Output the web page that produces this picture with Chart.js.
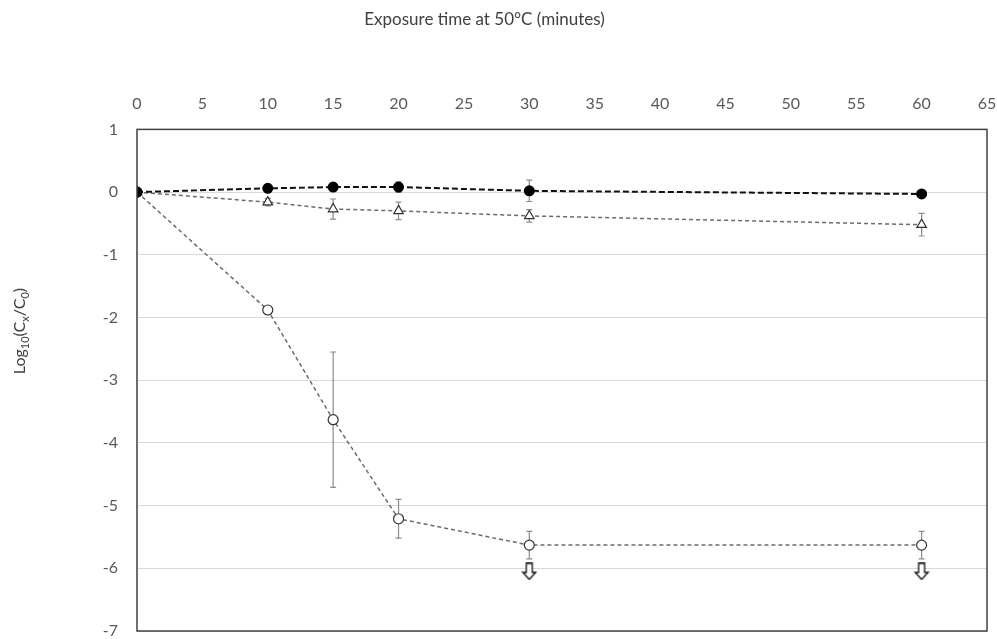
<!DOCTYPE html>
<html>
<head>
<meta charset="utf-8">
<script src="https://cdn.jsdelivr.net/npm/chart.js@4/dist/chart.umd.min.js"></script>
<style>
  html, body { margin: 0; padding: 0; background: #fff; overflow: hidden; }
  canvas { display: block; }
</style>
</head>
<body>
<canvas id="myChart" width="997" height="639" style="width:997px;height:639px"></canvas>
<script>
const ctx = document.getElementById('myChart').getContext('2d');

// exposure times (minutes)
const times = [0, 10, 15, 20, 30, 60];

// log10 reductions, three series
const filledVals = [0, 0.06, 0.08, 0.08, 0.02, -0.03];
const filledErr  = [0, 0, 0, 0.085, 0.17, 0];

const triVals = [0, -0.16, -0.27, -0.30, -0.38, -0.52];
const triErr  = [0, 0.06, 0.16, 0.14, 0.10, 0.18];

const openVals = [0, -1.88, -3.63, -5.21, -5.63, -5.63];
const openErr  = [0, 0, 1.08, 0.31, 0.22, 0.22];

// below-detection-limit arrows
const arrowTimes = [30, 60];
const arrowVals  = [-6.05, -6.05];

const xTicks = [0, 5, 10, 15, 20, 25, 30, 35, 40, 45, 50, 55, 60, 65];
const yTicks = [1, 0, -1, -2, -3, -4, -5, -6, -7];

const toPoints = (xs, ys) => xs.map((x, i) => ({x: x, y: ys[i]}));

// hollow down arrow used as point style
function makeArrow() {
    const c = document.createElement('canvas');
    c.width = 16; c.height = 18;
    const g = c.getContext('2d');
    g.strokeStyle = '#111';
    g.lineWidth = 1.3;
    g.fillStyle = '#fff';
    g.beginPath();
    g.moveTo(5, 1);
    g.lineTo(11, 1);
    g.lineTo(11, 10);
    g.lineTo(14.5, 10);
    g.lineTo(8, 17);
    g.lineTo(1.5, 10);
    g.lineTo(5, 10);
    g.closePath();
    g.fill();
    g.stroke();
    return c;
}

// error bars plugin
const errorBars = {
    id: 'errorBars',
    beforeDatasetsDraw(chart) {
        const {ctx, scales: {x, y}} = chart;
        ctx.save();
        ctx.strokeStyle = '#8c8c8c';
        ctx.lineWidth = 1.2;
        chart.data.datasets.forEach(function(ds) {
            if (!ds.errors) return;
            ds.data.forEach(function(p, i) {
                const e = ds.errors[i];
                if (!e) return;
                const px = x.getPixelForValue(p.x);
                const top = y.getPixelForValue(p.y + e);
                const bot = y.getPixelForValue(p.y - e);
                ctx.beginPath();
                ctx.moveTo(px, top); ctx.lineTo(px, bot);
                ctx.moveTo(px - 3, top); ctx.lineTo(px + 3, top);
                ctx.moveTo(px - 3, bot); ctx.lineTo(px + 3, bot);
                ctx.stroke();
            });
        });
        ctx.restore();
    }
};

// frame around plot and the y axis title with subscripts
const frame = {
    id: 'frame',
    afterLayout(chart) {
        // title sits a little left of the canvas centre
        if (chart.titleBlock) chart.titleBlock.left -= 18;
    },
    afterDraw(chart) {
        const {ctx, chartArea: {left, top, right, bottom}} = chart;
        ctx.save();
        ctx.strokeStyle = '#404040';
        ctx.lineWidth = 1.5;
        ctx.strokeRect(left, top, right - left, bottom - top);
        ctx.restore();

        // y title: Log10(Cx/C0)
        const parts = [
            ['Log', false], ['10', true], ['(C', false], ['x', true],
            ['/C', false], ['0', true], [')', false]
        ];
        const big = '16px Lato', small = '11px Lato';
        ctx.save();
        ctx.fillStyle = '#404040';
        ctx.textBaseline = 'alphabetic';
        let total = 0;
        parts.forEach(function(p) { ctx.font = p[1] ? small : big; total += ctx.measureText(p[0]).width; });
        ctx.translate(25, 331);
        ctx.rotate(-Math.PI / 2);
        let cx = -total / 2;
        parts.forEach(function(p) {
            ctx.font = p[1] ? small : big;
            ctx.fillText(p[0], cx, p[1] ? 4 : 0);
            cx += ctx.measureText(p[0]).width;
        });
        ctx.restore();
    }
};

const data = {
    datasets: [{
        label: 'filled',
        data: toPoints(times, filledVals),
        errors: filledErr,
        borderColor: '#111',
        borderWidth: 2,
        borderDash: [6, 3],
        pointStyle: 'circle',
        pointRadius: 4.5,
        pointBackgroundColor: '#000',
        pointBorderColor: '#000',
        showLine: true
    }, {
        label: 'triangle',
        data: toPoints(times, triVals),
        errors: triErr,
        borderColor: '#6b6b6b',
        borderWidth: 1.5,
        borderDash: [4, 3],
        pointStyle: 'triangle',
        pointRadius: 5.5,
        pointBackgroundColor: '#fff',
        pointBorderColor: '#333',
        pointBorderWidth: 1.2,
        showLine: true
    }, {
        label: 'open',
        data: toPoints(times, openVals),
        errors: openErr,
        borderColor: '#6b6b6b',
        borderWidth: 1.5,
        borderDash: [4, 3],
        pointStyle: 'circle',
        pointRadius: 5,
        pointBackgroundColor: '#fff',
        pointBorderColor: '#333',
        pointBorderWidth: 1.2,
        showLine: true
    }, {
        label: 'limit',
        data: toPoints(arrowTimes, arrowVals),
        pointStyle: makeArrow(),
        showLine: false
    }]
};

const config = {
    type: 'scatter',
    data,
    options: {
        responsive: false,
        animation: false,
        devicePixelRatio: 1,
        layout: { padding: { left: 0, right: 10, top: 0, bottom: 8 } },
        plugins: {
            legend: { display: false },
            tooltip: { enabled: false },
            title: {
                display: true,
                text: 'Exposure time at 50°C (minutes)',
                color: '#404040',
                font: { family: 'Lato', size: 17, weight: 'normal' },
                padding: { top: 9, bottom: 0 }
            }
        },
        scales: {
            x: {
                type: 'linear',
                position: 'top',
                min: 0, max: 65,
                afterBuildTicks: function(scale) { scale.ticks = xTicks.map(v => ({value: v})); },
                afterFit: function(scale) {
                    scale.height = 100;
                    scale.paddingLeft = 0; scale.paddingRight = 0;
                },
                grid: { display: false, drawTicks: false },
                border: { display: false },
                ticks: { color: '#595959', font: { family: 'Lato', size: 16 }, padding: 16, maxRotation: 0 }
            },
            y: {
                type: 'linear',
                min: -7, max: 1,
                afterBuildTicks: function(scale) { scale.ticks = yTicks.map(v => ({value: v})); },
                afterFit: function(scale) {
                    scale.width = 137;
                    scale.paddingTop = 0; scale.paddingBottom = 0;
                },
                grid: { color: '#d9d9d9', lineWidth: 1, drawTicks: false },
                border: { display: false },
                ticks: { color: '#595959', font: { family: 'Lato', size: 16 }, padding: 19 }
            }
        }
    },
    plugins: [errorBars, frame]
};

const myChart = new Chart(ctx, config);
</script>
</body>
</html>
